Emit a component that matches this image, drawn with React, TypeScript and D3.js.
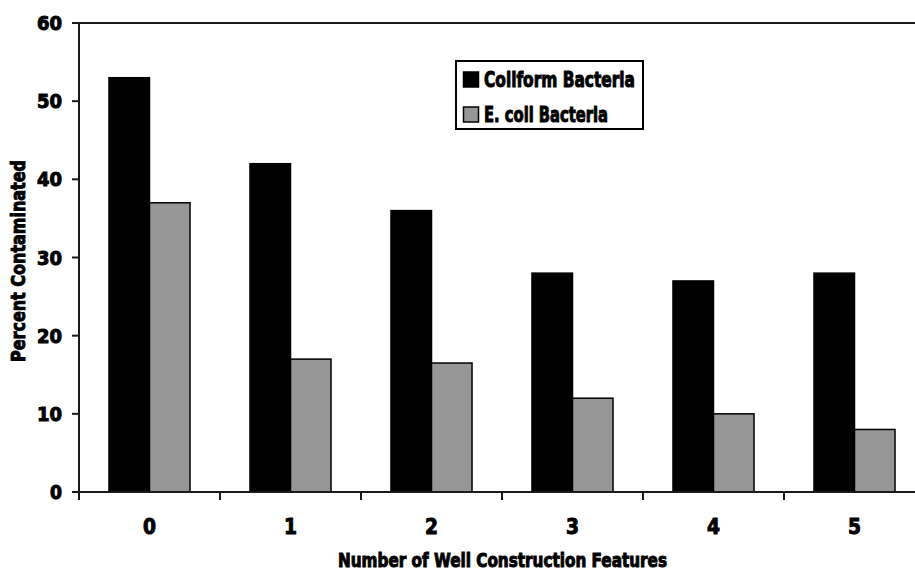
import React, { useEffect, useRef } from 'react';
import * as d3 from 'd3';

// Data
const categories = ['0', '1', '2', '3', '4', '5'];
const seriesNames = ['Coliform Bacteria', 'E. coli Bacteria'];
const coliformValues = [53, 42, 36, 28, 27, 28];
const ecoliValues = [37, 17, 16.5, 12, 10, 8];
const yTicks = [0, 10, 20, 30, 40, 50, 60];

const FONT = '"Liberation Sans Narrow", "DejaVu Sans Condensed", sans-serif';
const HEAVY = 0.95;

const App: React.FC = () => {
  const svgRef = useRef<SVGSVGElement>(null);

  useEffect(() => {
    if (!svgRef.current) return;
    const svg = d3.select(svgRef.current);
    svg.selectAll('*').remove();

    const width = 915;
    const height = 573;
    const left = 79;
    const top = 23;
    const bottom = 492;
    const step = 141;

    const x0 = d3.scaleBand<string>()
      .domain(categories)
      .range([left, left + step * categories.length])
      .padding(0);

    const x1 = d3.scaleBand<string>()
      .domain(seriesNames)
      .range([0, x0.bandwidth()])
      .paddingInner(0)
      .paddingOuter(0.74);

    const y = d3.scaleLinear().domain([0, 60]).range([bottom, top]);

    const color = d3.scaleOrdinal<string, string>()
      .domain(seriesNames)
      .range(['#000000', '#969696']);

    const rows = categories.map((c, i) => ({
      category: c,
      values: [
        { key: seriesNames[0], value: coliformValues[i] },
        { key: seriesNames[1], value: ecoliValues[i] },
      ],
    }));

    // bars
    svg.append('g')
      .selectAll('g')
      .data(rows)
      .join('g')
        .attr('transform', d => `translate(${x0(d.category)},0)`)
      .selectAll('rect')
      .data(d => d.values)
      .join('rect')
        .attr('x', d => x1(d.key)!)
        .attr('y', d => y(d.value))
        .attr('width', x1.bandwidth())
        .attr('height', d => y(0) - y(d.value))
        .attr('fill', d => color(d.key))
        .attr('stroke', '#000')
        .attr('stroke-width', 1.5);

    const axisColor = '#1a1a1a';

    // plot frame top line + axes
    svg.append('line')
      .attr('x1', left - 7).attr('x2', width + 20)
      .attr('y1', y(60)).attr('y2', y(60))
      .attr('stroke', axisColor).attr('stroke-width', 2);
    svg.append('line')
      .attr('x1', left).attr('x2', left)
      .attr('y1', y(60)).attr('y2', y(0) + 8)
      .attr('stroke', axisColor).attr('stroke-width', 2);
    svg.append('line')
      .attr('x1', left - 7).attr('x2', width + 20)
      .attr('y1', y(0)).attr('y2', y(0))
      .attr('stroke', axisColor).attr('stroke-width', 2);

    // y ticks
    const yg = svg.append('g');
    yg.selectAll('line')
      .data(yTicks)
      .join('line')
        .attr('x1', left - 7).attr('x2', left)
        .attr('y1', d => y(d)).attr('y2', d => y(d))
        .attr('stroke', axisColor).attr('stroke-width', 2);
    yg.selectAll('text')
      .data(yTicks)
      .join('text')
        .attr('x', 62)
        .attr('y', d => y(d) + 7)
        .attr('text-anchor', 'end')
        .attr('font-family', FONT)
        .attr('font-weight', 'bold')
        .attr('font-size', 19.5)
        .attr('stroke', '#000').attr('stroke-width', HEAVY)
        .attr('textLength', d => (String(d).length === 1 ? 12 : 25))
        .attr('lengthAdjust', 'spacingAndGlyphs')
        .text(d => d);

    // x category separators
    const bounds = d3.range(categories.length + 1).map(i => left + i * step);
    svg.append('g')
      .selectAll('line')
      .data(bounds.slice(1))
      .join('line')
        .attr('x1', d => d).attr('x2', d => d)
        .attr('y1', y(0)).attr('y2', y(0) + 8)
        .attr('stroke', axisColor).attr('stroke-width', 2);

    svg.append('g')
      .selectAll('text')
      .data(categories)
      .join('text')
        .attr('x', d => x0(d)! + x0.bandwidth() / 2)
        .attr('y', 534)
        .attr('text-anchor', 'middle')
        .attr('font-family', FONT)
        .attr('font-weight', 'bold')
        .attr('font-size', 22)
        .attr('stroke', '#000').attr('stroke-width', HEAVY)
        .attr('textLength', 13)
        .attr('lengthAdjust', 'spacingAndGlyphs')
        .text(d => d);

    // axis titles
    svg.append('text')
      .attr('x', 502.5)
      .attr('y', 567)
      .attr('text-anchor', 'middle')
      .attr('font-family', FONT)
      .attr('font-weight', 'bold')
      .attr('font-size', 19.5)
      .attr('stroke', '#000').attr('stroke-width', HEAVY)
      .attr('textLength', 329)
      .attr('lengthAdjust', 'spacingAndGlyphs')
      .text('Number of Well Construction Features');

    svg.append('text')
      .attr('transform', 'translate(25,261) rotate(-90)')
      .attr('text-anchor', 'middle')
      .attr('font-family', FONT)
      .attr('font-weight', 'bold')
      .attr('font-size', 20)
      .attr('stroke', '#000').attr('stroke-width', HEAVY)
      .attr('textLength', 202)
      .attr('lengthAdjust', 'spacingAndGlyphs')
      .text('Percent Contaminated');

    // legend
    const legend = svg.append('g');
    legend.append('rect')
      .attr('x', 456).attr('y', 61)
      .attr('width', 187).attr('height', 68)
      .attr('fill', '#fff')
      .attr('stroke', '#000').attr('stroke-width', 2);

    const legendLengths = [151, 124];
    const item = legend.selectAll('g.item')
      .data(seriesNames)
      .join('g')
        .attr('class', 'item')
        .attr('transform', (_, i) => `translate(0,${i * 35})`);
    item.append('rect')
      .attr('x', 463.5).attr('y', 72)
      .attr('width', 15).attr('height', 15)
      .attr('fill', d => color(d))
      .attr('stroke', '#000').attr('stroke-width', 1.5);
    item.append('text')
      .attr('x', 484)
      .attr('y', 87)
      .attr('font-family', FONT)
      .attr('font-weight', 'bold')
      .attr('font-size', 21.5)
      .attr('stroke', '#000').attr('stroke-width', HEAVY)
      .attr('textLength', (_, i) => legendLengths[i])
      .attr('lengthAdjust', 'spacingAndGlyphs')
      .text(d => d);

    svg.attr('width', width).attr('height', height);
  }, []);

  return (
    <svg
      ref={svgRef}
      width={915}
      height={573}
      style={{ position: 'absolute', left: 0, top: 0, background: '#fff', display: 'block' }}
    />
  );
};

export default App;
